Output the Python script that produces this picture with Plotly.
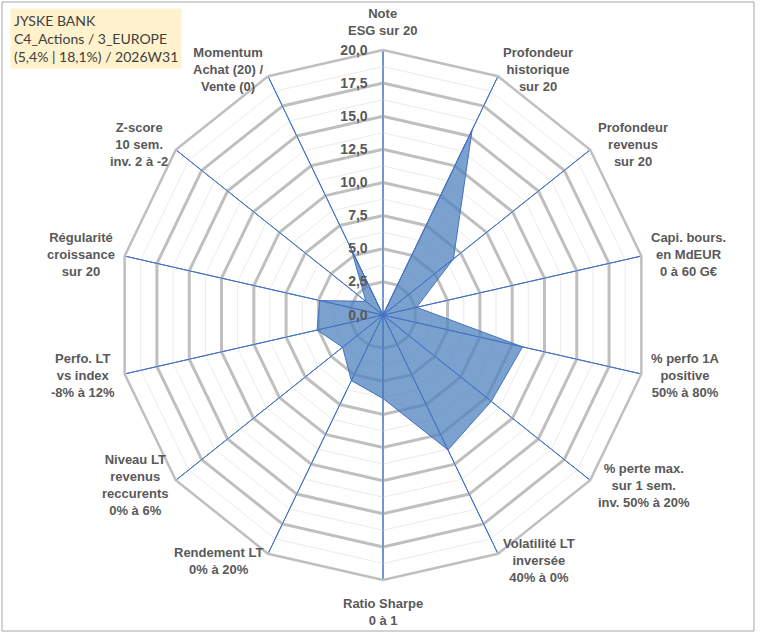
import math

import plotly.graph_objects as go

# Axes du radar (sens horaire depuis le haut)
categories = [
    "Note<br>ESG sur 20",
    "Profondeur<br>historique<br>sur 20",
    "Profondeur<br>revenus<br>sur 20",
    "Capi. bours.<br>en MdEUR<br>0 à 60 G€",
    "% perfo 1A<br>positive<br>50% à 80%",
    "% perte max.<br>sur 1 sem.<br>inv. 50% à 20%",
    "Volatilité LT<br>inversée<br>40% à 0%",
    "Ratio Sharpe<br>0 à 1",
    "Rendement LT<br>0% à 20%",
    "Niveau LT<br>revenus<br>reccurents<br>0% à 6%",
    "Perfo. LT<br>vs index<br>-8% à 12%",
    "Régularité<br>croissance<br>sur 20",
    "Z-score<br>10 sem.<br>inv. 2 à -2",
    "Momentum<br>Achat (20) /<br>Vente (0)",
]

# Notes sur 20
scores = [0.0, 15.5, 6.8, 2.6, 10.8, 10.45, 11.3, 6.3, 5.5, 3.9, 5.1, 4.9, 1.65, 5.5]

radial_ticks = [0, 2.5, 5, 7.5, 10, 12.5, 15, 17.5, 20]
minor_levels = [1.25, 3.75, 6.25, 8.75, 11.25, 13.75, 16.25, 18.75]

title_lines = ["JYSKE BANK", "C4_Actions / 3_EUROPE", "(5,4% | 18,1%) / 2026W31"]

W, H = 760, 633
CX, CY, R = 383, 315, 265
LABEL_FONT = dict(family="Liberation Sans, Arial, sans-serif", size=13,
                  color="#595959", weight="bold")

fig = go.Figure()

# ── Grille secondaire (fines lignes grises) ──
closed = categories + [categories[0]]
for lvl in minor_levels:
    fig.add_trace(go.Scatterpolar(
        r=[lvl] * len(closed), theta=closed, mode="lines",
        line=dict(color="#ebebeb", width=1), hoverinfo="skip", showlegend=False,
    ))

# ── Série ──
fig.add_trace(go.Scatterpolar(
    r=scores + [scores[0]], theta=closed, mode="lines", fill="toself",
    fillcolor="rgba(79,129,189,0.75)", line=dict(color="#4472c4", width=1),
    showlegend=False,
))

# ── Rayons bleus par-dessus le remplissage ──
spoke_r, spoke_t = [], []
for c in categories:
    spoke_r += [0, radial_ticks[-1], None]
    spoke_t += [c, c, None]
fig.add_trace(go.Scatterpolar(
    r=spoke_r, theta=spoke_t, mode="lines",
    line=dict(color="#4472c4", width=1), hoverinfo="skip", showlegend=False,
))

# ── Libellés des axes façon Excel (collés au sommet du polygone) ──
annotations = []
n = len(categories)
for i, label in enumerate(categories):
    a = math.radians(360 / n * i)
    s, c = math.sin(a), math.cos(a)
    if abs(s) < 0.1:
        gap = 10 if c > 0 else 14
        xa, ya = "center", ("bottom" if c > 0 else "top")
    else:
        gap = 8
        xa, ya = ("left" if s > 0 else "right"), "middle"
    px_x = CX + (R + gap) * s
    px_y = CY - (R + gap) * c
    annotations.append(dict(
        text=label, xref="paper", yref="paper",
        x=px_x / W, y=1 - px_y / H, xanchor=xa, yanchor=ya,
        align="center", showarrow=False, font=LABEL_FONT,
    ))

annotations.append(dict(
    text="<br>".join(title_lines),
    xref="paper", yref="paper", x=10 / W, y=1 - 8 / H,
    xanchor="left", yanchor="top", align="left", showarrow=False,
    bgcolor="#fff2cc", borderpad=3,
    font=dict(family="Lato, sans-serif", size=14, color="#404040"),
))

fig.update_layout(
    width=W, height=H,
    paper_bgcolor="white",
    margin=dict(l=0, r=0, t=0, b=0),
    separators=", ",
    font=dict(family="Liberation Sans, Arial, sans-serif", color="#595959"),
    polar=dict(
        domain=dict(x=[(CX - R) / W, (CX + R) / W],
                    y=[(H - CY - R) / H, (H - CY + R) / H]),
        gridshape="linear",
        bgcolor="white",
        angularaxis=dict(
            rotation=90, direction="clockwise",
            categoryorder="array", categoryarray=categories,
            gridcolor="#4472c4", gridwidth=1,
            linecolor="#bfbfbf", linewidth=2.5,
            showticklabels=False, ticks="",
        ),
        radialaxis=dict(
            range=[0, 20], tickvals=radial_ticks, tickformat=".1f",
            angle=90, tickangle=90, side="counterclockwise",
            showline=False, ticks="outside", ticklen=10,
            tickcolor="rgba(0,0,0,0)",
            gridcolor="#bfbfbf", gridwidth=2.5,
            tickfont=dict(size=14, color="#595959", weight="bold"),
        ),
    ),
    annotations=annotations,
    shapes=[dict(
        type="rect", xref="paper", yref="paper",
        x0=2 / W, x1=754 / W, y0=1 - 631 / H, y1=1 - 2 / H,
        line=dict(color="#a6a6a6", width=1),
    )],
)

# la page HTML ajoute une marge de 8 px autour du graphique : on la supprime
fig.write_html("out.html", config={"displayModeBar": False},
               post_script="document.body.style.margin='0px';")
